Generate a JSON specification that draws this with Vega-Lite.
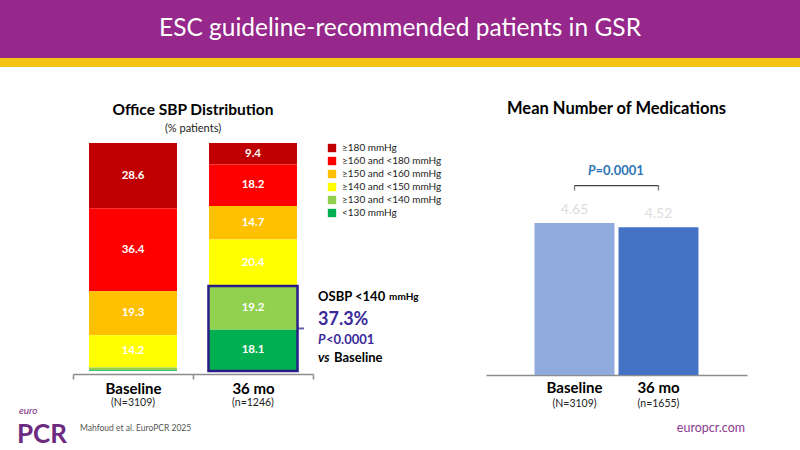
{
  "$schema": "https://vega.github.io/schema/vega-lite/v6.json",
  "padding": 0,
  "background": "white",
  "bounds": "flush",
  "spacing": 0,
  "config": {"font": "Lato", "view": {"stroke": null}, "axis": {"grid": false}},
  "resolve": {"scale": {"color": "independent"}, "legend": {"color": "independent"}},
  "vconcat": [
    {
      "width": 800, "height": 58,
      "view": {"fill": "#95288a", "stroke": null},
      "data": {"values": [{"t": "ESC guideline-recommended patients in GSR"}]},
      "mark": {"type": "text", "color": "white", "fontSize": 24.5},
      "encoding": {"text": {"field": "t", "type": "nominal"}}
    },
    {
      "width": 800, "height": 9,
      "view": {"fill": "#f6c413", "stroke": null},
      "data": {"values": [{}]},
      "mark": {"type": "text", "text": ""},
      "encoding": {}
    },
    {
      "width": 800, "height": 76,
      "data": {"values": [{}]},
      "mark": {"type": "text", "text": ""},
      "encoding": {}
    },
    {
      "bounds": "flush",
      "spacing": 0,
      "resolve": {"scale": {"color": "independent"}, "legend": {"color": "independent"}},
      "hconcat": [
        {
          "width": 73, "height": 10,
          "data": {"values": [{}]},
          "mark": {"type": "text", "text": ""},
          "encoding": {}
        },
        {
          "width": 240, "height": 228,
          "title": {"text": "Office SBP Distribution", "subtitle": "(% patients)", "fontSize": 15.5, "fontWeight": "bold", "color": "#000", "subtitleFontSize": 11, "subtitleColor": "#222", "subtitlePadding": 5, "offset": 9, "anchor": "middle"},
          "data": {"values": [
            {"period": "Baseline|(N=3109)", "cat": "≥180 mmHg", "pct": 28.6},
            {"period": "Baseline|(N=3109)", "cat": "≥160 and <180 mmHg", "pct": 36.4},
            {"period": "Baseline|(N=3109)", "cat": "≥150 and <160 mmHg", "pct": 19.3},
            {"period": "Baseline|(N=3109)", "cat": "≥140 and <150 mmHg", "pct": 14.2},
            {"period": "Baseline|(N=3109)", "cat": "≥130 and <140 mmHg", "pct": 1.2},
            {"period": "Baseline|(N=3109)", "cat": "<130 mmHg", "pct": 0.3},
            {"period": "36 mo|(n=1246)", "cat": "≥180 mmHg", "pct": 9.4},
            {"period": "36 mo|(n=1246)", "cat": "≥160 and <180 mmHg", "pct": 18.2},
            {"period": "36 mo|(n=1246)", "cat": "≥150 and <160 mmHg", "pct": 14.7},
            {"period": "36 mo|(n=1246)", "cat": "≥140 and <150 mmHg", "pct": 20.4},
            {"period": "36 mo|(n=1246)", "cat": "≥130 and <140 mmHg", "pct": 19.2},
            {"period": "36 mo|(n=1246)", "cat": "<130 mmHg", "pct": 18.1}
          ]},
          "layer": [
            {
              "mark": {"type": "bar", "width": {"band": 0.733}},
              "encoding": {
                "x": {"field": "period", "type": "nominal",
                  "scale": {"domain": ["Baseline|(N=3109)", "36 mo|(n=1246)"], "paddingInner": 0, "paddingOuter": 0},
                  "axis": {"orient": "bottom", "offset": 3, "title": null, "labelExpr": "isValid(datum.value) && !datum.extra ? split(datum.value,'|')[0] : ''", "labelAngle": 0, "labelFontSize": 15, "labelFontWeight": "bold", "labelColor": "#000", "labelPadding": 2, "tickBand": "extent", "tickSize": 5, "tickColor": "#8c8c8c", "tickWidth": 1.5, "domainColor": "#8c8c8c", "domainWidth": 1.5}},
                "y": {"field": "pct", "type": "quantitative", "stack": "zero", "scale": {"domain": [0, 100], "nice": false}, "axis": null},
                "color": {"field": "cat", "type": "nominal",
                  "scale": {"domain": ["≥180 mmHg", "≥160 and <180 mmHg", "≥150 and <160 mmHg", "≥140 and <150 mmHg", "≥130 and <140 mmHg", "<130 mmHg"],
                            "range": ["#c00000", "#ff0000", "#ffc000", "#ffff00", "#92d050", "#00b050"]},
                  "legend": {"orient": "none", "legendX": 254, "legendY": 0, "title": null, "symbolType": "square", "symbolSize": 70, "symbolStrokeWidth": 0, "labelFontSize": 10, "labelColor": "#222", "rowPadding": 3, "labelOffset": 5}},
                "order": {"field": "cat", "sort": "ascending"}
              }
            },
            {
              "mark": {"type": "text", "color": "white", "fontWeight": "bold", "fontSize": 11.5},
              "encoding": {
                "x": {"field": "period", "type": "nominal",
                  "axis": {"orient": "bottom", "offset": 3, "title": null, "domain": false, "ticks": false, "tickSize": 0, "labelExpr": "isValid(datum.value) ? split(datum.value,'|')[1] : ''", "labelAngle": 0, "labelFontSize": 10.5, "labelColor": "#222", "labelPadding": 23}},
                "y": {"field": "pct", "type": "quantitative", "stack": "zero", "bandPosition": 0.5},
                "order": {"field": "cat", "sort": "ascending"},
                "text": {"field": "pct", "type": "quantitative", "format": ".1f", "condition": {"test": "datum.pct < 3", "value": ""}}
              }
            },
            {
              "data": {"values": [{"period": "36 mo|(n=1246)", "lo": 0, "hi": 37.3}]},
              "mark": {"type": "bar", "width": {"band": 0.742}, "fillOpacity": 0, "stroke": "#2a1d8a", "strokeWidth": 2.5},
              "encoding": {
                "x": {"field": "period", "type": "nominal", "axis": null},
                "y": {"field": "lo", "type": "quantitative"},
                "y2": {"field": "hi"}
              }
            },
            {
              "data": {"values": [{"period": "36 mo|(n=1246)"}]},
              "layer": [
                {"mark": {"type": "tick", "orient": "horizontal", "size": 6, "thickness": 2, "color": "#2a1d8a", "xOffset": 48},
                 "encoding": {"x": {"field": "period", "type": "nominal", "axis": null}, "y": {"datum": 18.65, "type": "quantitative"}}},
                {"mark": {"type": "text", "text": "OSBP <140", "align": "left", "dx": 5, "fontWeight": "bold", "fontSize": 13, "color": "#000"},
                 "encoding": {"x": {"field": "period", "type": "nominal", "bandPosition": 1, "axis": null}, "y": {"datum": 32.5, "type": "quantitative"}}},
                {"mark": {"type": "text", "text": "mmHg", "align": "left", "dx": 76, "fontWeight": "bold", "fontSize": 10, "color": "#000"},
                 "encoding": {"x": {"field": "period", "type": "nominal", "bandPosition": 1, "axis": null}, "y": {"datum": 32.3, "type": "quantitative"}}},
                {"mark": {"type": "text", "text": "37.3%", "align": "left", "dx": 5, "fontWeight": "bold", "fontSize": 18, "color": "#3a2a9a"},
                 "encoding": {"x": {"field": "period", "type": "nominal", "bandPosition": 1, "axis": null}, "y": {"datum": 22.4, "type": "quantitative"}}},
                {"mark": {"type": "text", "text": "P", "align": "left", "dx": 5, "fontWeight": "bold", "fontStyle": "italic", "fontSize": 13, "color": "#3a2a9a"},
                 "encoding": {"x": {"field": "period", "type": "nominal", "bandPosition": 1, "axis": null}, "y": {"datum": 13.6, "type": "quantitative"}}},
                {"mark": {"type": "text", "text": "<0.0001", "align": "left", "dx": 13, "fontWeight": "bold", "fontSize": 13, "color": "#3a2a9a"},
                 "encoding": {"x": {"field": "period", "type": "nominal", "bandPosition": 1, "axis": null}, "y": {"datum": 13.6, "type": "quantitative"}}},
                {"mark": {"type": "text", "text": "vs", "align": "left", "dx": 5, "fontWeight": "bold", "fontStyle": "italic", "fontSize": 13, "color": "#000"},
                 "encoding": {"x": {"field": "period", "type": "nominal", "bandPosition": 1, "axis": null}, "y": {"datum": 5.7, "type": "quantitative"}}},
                {"mark": {"type": "text", "text": "Baseline", "align": "left", "dx": 21, "fontWeight": "bold", "fontSize": 13, "color": "#000"},
                 "encoding": {"x": {"field": "period", "type": "nominal", "bandPosition": 1, "axis": null}, "y": {"datum": 5.7, "type": "quantitative"}}}
              ]
            }
          ],
          "resolve": {"axis": {"x": "independent"}}
        },
        {
          "width": 173, "height": 10,
          "data": {"values": [{}]},
          "mark": {"type": "text", "text": ""},
          "encoding": {}
        },
        {
          "width": 261, "height": 232,
          "title": {"text": "Mean Number of Medications", "fontSize": 16.5, "fontWeight": "bold", "color": "#000", "offset": 26, "anchor": "middle"},
          "data": {"values": [
            {"period": "Baseline|(N=3109)", "meds": 4.65},
            {"period": "36 mo|(n=1655)", "meds": 4.52}
          ]},
          "layer": [
            {
              "mark": {"type": "bar", "width": {"band": 0.952}},
              "encoding": {
                "x": {"field": "period", "type": "nominal",
                  "scale": {"domain": ["Baseline|(N=3109)", "36 mo|(n=1655)"], "paddingInner": 0, "paddingOuter": 0.554},
                  "axis": {"orient": "bottom", "title": null, "labelExpr": "isValid(datum.value) ? split(datum.value,'|')[0] : ''", "labelAngle": 0, "labelFontSize": 15, "labelFontWeight": "bold", "labelColor": "#000", "labelPadding": 5, "ticks": false, "tickSize": 0, "domainColor": "#8c8c8c", "domainWidth": 1.5}},
                "y": {"field": "meds", "type": "quantitative", "scale": {"domain": [0, 7.1], "nice": false}, "axis": null},
                "color": {"field": "period", "type": "nominal", "scale": {"domain": ["Baseline|(N=3109)", "36 mo|(n=1655)"], "range": ["#8faadc", "#4472c4"]}, "legend": null}
              }
            },
            {
              "mark": {"type": "text", "baseline": "bottom", "dy": -6, "fontSize": 14, "color": "#dddddd"},
              "encoding": {
                "x": {"field": "period", "type": "nominal",
                  "axis": {"orient": "bottom", "title": null, "domain": false, "ticks": false, "tickSize": 0, "labelExpr": "isValid(datum.value) ? split(datum.value,'|')[1] : ''", "labelAngle": 0, "labelFontSize": 10.5, "labelColor": "#222", "labelPadding": 23}},
                "y": {"field": "meds", "type": "quantitative"},
                "text": {"field": "meds", "type": "quantitative", "format": ".2f"}
              }
            },
            {
              "mark": {"type": "tick", "orient": "vertical", "size": 5, "thickness": 1.3, "color": "#404040"},
              "encoding": {
                "x": {"field": "period", "type": "nominal", "axis": null},
                "y": {"datum": 5.72, "type": "quantitative"}
              }
            },
            {
              "data": {"values": [{"a": "Baseline|(N=3109)", "b": "36 mo|(n=1655)"}]},
              "mark": {"type": "rule", "strokeWidth": 1.3, "color": "#404040"},
              "encoding": {
                "x": {"field": "a", "type": "nominal", "axis": null},
                "x2": {"field": "b"},
                "y": {"datum": 5.795, "type": "quantitative"}
              }
            },
            {
              "data": {"values": [{"period": "Baseline|(N=3109)"}]},
              "layer": [
                {"mark": {"type": "text", "text": "P", "align": "right", "dx": -21, "fontWeight": "bold", "fontStyle": "italic", "fontSize": 13, "color": "#2e75b6"},
                 "encoding": {"x": {"field": "period", "type": "nominal", "bandPosition": 1, "axis": null}, "y": {"datum": 6.24, "type": "quantitative"}}},
                {"mark": {"type": "text", "text": "=0.0001", "align": "left", "dx": -21, "fontWeight": "bold", "fontSize": 13, "color": "#2e75b6"},
                 "encoding": {"x": {"field": "period", "type": "nominal", "bandPosition": 1, "axis": null}, "y": {"datum": 6.24, "type": "quantitative"}}}
              ]
            }
          ],
          "resolve": {"axis": {"x": "independent"}}
        }
      ]
    },
    {
      "width": 800, "height": 267,
      "data": {"values": [{}]},
      "mark": {"type": "text", "text": ""},
      "encoding": {}
    },
    {
      "width": 800, "height": 40,
      "data": {"values": [{}]},
      "layer": [
        {"mark": {"type": "text", "text": "euro", "align": "left", "dx": -381, "dy": -19, "fontSize": 10, "fontStyle": "italic", "color": "#7b2c87"}, "encoding": {}},
        {"mark": {"type": "text", "text": "PCR", "align": "left", "dx": -383, "dy": 5, "fontSize": 26, "fontWeight": "bold", "color": "#6c2a80"}, "encoding": {}},
        {"mark": {"type": "text", "text": "Mahfoud et al. EuroPCR 2025", "align": "left", "dx": -320, "dy": -2, "fontSize": 8.5, "color": "#555555"}, "encoding": {}},
        {"mark": {"type": "text", "text": "europcr.com", "align": "right", "dx": 345, "dy": -2, "fontSize": 12.5, "color": "#8a3a8f"}, "encoding": {}}
      ]
    }
  ]
}
